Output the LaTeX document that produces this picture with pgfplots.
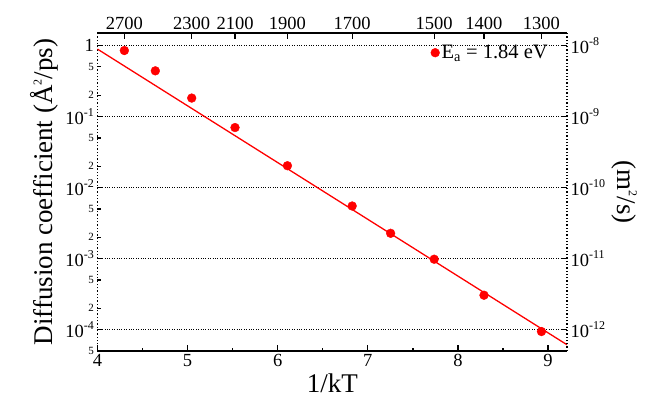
\documentclass[border=0pt]{standalone}
\usepackage{fontspec}
\setmainfont{Liberation Serif}
\usepackage{pgfplots}
\pgfplotsset{compat=1.18}

\newcommand\sups[1]{\raisebox{0.42em}{\fontsize{12}{12}\selectfont #1}}
\newcommand\tenp[1]{10\sups{#1}}

\pgfplotsset{
  commonax/.style={
    scale only axis, width=469.5pt, height=318pt,
    xmin=4, xmax=9.21,
    tick label style={font=\fontsize{18.5}{18.5}\selectfont},
    label style={font=\fontsize{27}{27}\selectfont},
  },
}

\begin{document}
\begin{tikzpicture}
\useasboundingbox (-97.5pt,-61pt) rectangle (564.5pt,351pt);
% main axis: D in A^2/ps
\begin{axis}[commonax, ymode=log, name=main,
  ymin=5e-5, ymax=1.5,
  axis x line*=bottom, axis y line*=left,
  x axis line style={-, line width=1.4pt},
  y axis line style={-, dotted, line width=1.3pt},
  every tick/.style={black, line width=1.2pt},
  xtick style={black, line width=1.2pt}, ytick style={black, line width=1.2pt},
  major tick length=6pt, minor tick length=3.5pt,
  tick align=inside,
  xtick={4,5,6,7,8,9}, xticklabels={4,5,6,7,8,9},
  minor xtick={4.5,5.5,6.5,7.5,8.5},
  ytick={1,0.1,0.01,0.001,0.0001},
  yticklabels={1,\tenp{-1},\tenp{-2},\tenp{-3},\tenp{-4}},
  ymajorgrids, major grid style={dotted, black, line width=0.9pt},
  extra y ticks={0.5,0.2,0.05,0.02,0.005,0.002,0.0005,0.0002,0.00005},
  extra y tick labels={5,2,5,2,5,2,5,2,5},
  extra y tick style={grid=none, major tick length=4pt,
    tick label style={font=\fontsize{11}{11}\selectfont}},
  xlabel={1/kT},
  ylabel={Diffusion coefficient (Å\sups{2}/ps)},
  legend style={draw=none, fill=none, at={(0.97,0.975)}, anchor=north east,
    font=\fontsize{20.5}{20.5}\selectfont},
  legend image post style={xshift=-8pt},
  legend cell align=left,
]
\addplot[only marks, mark=*, mark size=4.4pt, red] coordinates {
  (4.2980, 0.85) (4.6418, 0.44) (5.0454, 0.182) (5.5260, 0.070)
  (6.1076, 0.0203) (6.8262, 0.0055) (7.2528, 0.00227) (7.7363, 0.00098)
  (8.2889, 0.000305) (8.9266, 0.000094)
};
\addlegendentry{E\textsubscript{a} = 1.84 eV}
% Arrhenius fit
\addplot[red, line width=1.3pt, forget plot] coordinates {
  (4, 0.89) (9.21, 6.12e-5)
};
\end{axis}

% right axis: D in m^2/s
\begin{axis}[commonax, ymode=log,
  ymin=5e-13, ymax=1.5e-8,
  axis y line*=right, axis x line=none,
  y axis line style={-, dotted, line width=1.3pt},
  every tick/.style={black, line width=1.2pt},
  ytick style={black, line width=1.2pt},
  major tick length=6pt, minor tick length=3.5pt,
  tick align=inside,
  ytick={1e-8,1e-9,1e-10,1e-11,1e-12},
  yticklabels={\tenp{-8},\tenp{-9},\tenp{-10},\tenp{-11},\tenp{-12}},
  ylabel={(m\sups{2}/s)},
  ylabel style={rotate=180},
]
\end{axis}

% top axis: temperature in K
\begin{axis}[commonax, ymin=0, ymax=1,
  axis x line*=top, axis y line=none,
  x axis line style={-, line width=1.4pt},
  every tick/.style={black, line width=1.2pt},
  xtick style={black, line width=1.2pt},
  major tick length=6pt,
  tick align=inside,
  xtick={4.2980,5.0454,5.5260,6.1076,6.8262,7.7363,8.2889,8.9266},
  xticklabels={2700,2300,2100,1900,1700,1500,1400,1300},
  minor xtick={},
]
\end{axis}
\end{tikzpicture}
\end{document}
